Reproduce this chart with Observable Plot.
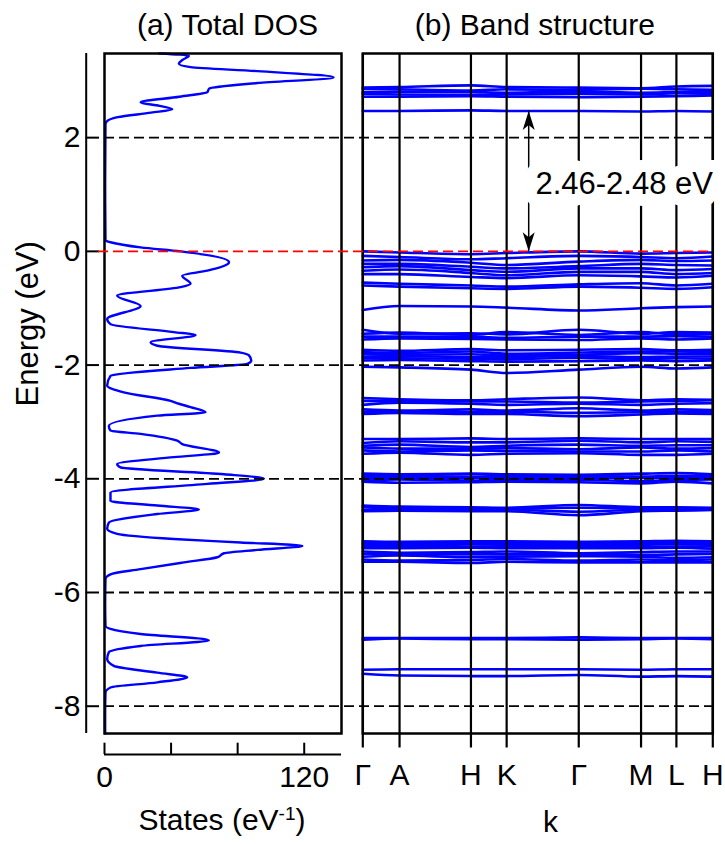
<!DOCTYPE html>
<html><head><meta charset="utf-8">
<script src="https://cdn.jsdelivr.net/npm/d3@7"></script>
<script src="https://cdn.jsdelivr.net/npm/@observablehq/plot@0.6"></script>
<style>
body{margin:0;background:#fff;}
#chart{position:relative;width:725px;height:844px;font-family:"Liberation Sans",Arial,sans-serif;}
#chart svg{position:absolute;left:0;top:0;}
</style></head><body><div id="chart"></div>
<script>
// ---------- data ----------
const energyDomain = [-8.48, 3.48];
const energyTicks = [-8, -6, -4, -2, 0, 2];
const guideEnergies = [2, -2, -4, -6, -8];
const fermiEnergy = [0];
const dosTicks = [0, 40, 80, 120];
const dosTickLabels = {0: "0", 120: "120"};

// total DOS: energy (eV) and states (eV^-1)
const dosEnergy = [3.48, 3.44, 3.37, 3.30, 3.24, 3.17, 3.06, 2.96, 2.86, 2.80, 2.72, 2.62, 2.56, 2.50, 2.44, 2.36, 2.30, 2.24, 1.2, 0.19, 0.16, 0.07, 0.00, -0.19, -0.34, -0.43, -0.57, -0.63, -0.78, -0.96, -1.19, -1.28, -1.42, -1.47, -1.60, -1.66, -1.78, -1.83, -1.92, -1.98, -2.05, -2.19, -2.36, -2.48, -2.63, -2.68, -2.74, -2.83, -2.89, -3.07, -3.15, -3.21, -3.33, -3.39, -3.54, -3.62, -3.74, -3.80, -3.92, -4.00, -4.09, -4.24, -4.39, -4.47, -4.54, -4.62, -4.77, -4.88, -4.97, -5.06, -5.12, -5.18, -5.25, -5.31, -5.38, -5.47, -5.59, -5.68, -5.76, -6.2, -6.59, -6.64, -6.73, -6.84, -6.94, -7.05, -7.17, -7.29, -7.41, -7.49, -7.58, -7.67, -7.76, -8.1, -8.48];
const dosStates = [33, 50.7, 47, 44.7, 51.7, 91.8, 137.6, 91.8, 62.8, 61.8, 45, 21.7, 33, 40.7, 28, 8, 2, 0.6, 0.4, 0.6, 3.6, 21.7, 45.7, 74.8, 61.8, 46.7, 51.7, 45.7, 7.6, 21.7, 1.6, 3.6, 41.7, 54.7, 27.7, 31.7, 81.8, 86.8, 88.2, 85.8, 51.7, 3.6, 1.6, 11.6, 39.7, 44.7, 51.7, 60.7, 31.7, 2.6, 3.6, 21.7, 43.7, 46.7, 68.8, 41.7, 7.6, 9.6, 71.8, 95.8, 61.8, 3.6, 3.6, 31.7, 56.7, 31.7, 2.6, 1.6, 7.6, 41.7, 81.8, 118.9, 91.8, 71.8, 67.8, 47.7, 21.7, 3.6, 0.6, 0.4, 0.6, 3.6, 21.7, 62.7, 21.7, 2.6, 1.6, 5.6, 31.7, 49.7, 31.7, 3.6, 0.6, 0.4, 0.4];

// band structure: k-path
const kLabels = ["Γ", "A", "H", "K", "Γ", "M", "L", "H"];
const kPositions = [0, 0.105, 0.309, 0.411, 0.617, 0.795, 0.896, 1];
// band energies (eV) at Γ, A, H, K, Γ, M, L, H
const bandEnergies = [
  [2.47, 2.47, 2.48, 2.47, 2.47, 2.46, 2.47, 2.46],
  [2.72, 2.72, 2.73, 2.72, 2.71, 2.72, 2.73, 2.74],
  [2.77, 2.76, 2.75, 2.76, 2.77, 2.76, 2.78, 2.77],
  [2.80, 2.81, 2.80, 2.79, 2.81, 2.79, 2.80, 2.81],
  [2.86, 2.85, 2.83, 2.85, 2.84, 2.86, 2.85, 2.84],
  [2.88, 2.89, 2.92, 2.89, 2.88, 2.87, 2.90, 2.91],
  [0.00, -0.02, -0.05, -0.03, 0.00, -0.04, -0.03, -0.02],
  [-0.08, -0.10, -0.14, -0.12, -0.08, -0.10, -0.12, -0.09],
  [-0.16, -0.15, -0.20, -0.24, -0.18, -0.15, -0.17, -0.16],
  [-0.22, -0.22, -0.27, -0.30, -0.26, -0.22, -0.24, -0.25],
  [-0.28, -0.26, -0.33, -0.36, -0.30, -0.30, -0.33, -0.31],
  [-0.34, -0.32, -0.38, -0.42, -0.36, -0.36, -0.40, -0.38],
  [-0.40, -0.40, -0.45, -0.47, -0.42, -0.44, -0.46, -0.43],
  [-0.55, -0.57, -0.60, -0.62, -0.58, -0.56, -0.60, -0.57],
  [-0.60, -0.62, -0.65, -0.66, -0.62, -0.64, -0.66, -0.63],
  [-1.03, -0.96, -0.97, -0.99, -1.04, -1.00, -0.98, -0.97],
  [-1.38, -1.45, -1.44, -1.46, -1.38, -1.45, -1.42, -1.43],
  [-1.45, -1.43, -1.47, -1.42, -1.47, -1.42, -1.46, -1.45],
  [-1.50, -1.50, -1.50, -1.52, -1.50, -1.50, -1.49, -1.50],
  [-1.55, -1.53, -1.54, -1.55, -1.56, -1.53, -1.55, -1.53],
  [-1.73, -1.75, -1.72, -1.74, -1.73, -1.72, -1.74, -1.73],
  [-1.77, -1.79, -1.76, -1.80, -1.78, -1.76, -1.76, -1.77],
  [-1.80, -1.82, -1.81, -1.83, -1.82, -1.79, -1.80, -1.81],
  [-1.85, -1.84, -1.86, -1.86, -1.84, -1.86, -1.85, -1.85],
  [-1.88, -1.88, -1.89, -1.90, -1.87, -1.90, -1.88, -1.89],
  [-1.92, -1.91, -1.93, -1.94, -1.93, -1.92, -1.93, -1.92],
  [-2.03, -2.04, -2.08, -2.14, -2.08, -2.03, -2.06, -2.04],
  [-2.58, -2.60, -2.62, -2.60, -2.57, -2.62, -2.60, -2.61],
  [-2.63, -2.63, -2.64, -2.64, -2.66, -2.64, -2.63, -2.62],
  [-2.70, -2.66, -2.68, -2.70, -2.68, -2.70, -2.68, -2.67],
  [-2.78, -2.80, -2.78, -2.80, -2.76, -2.80, -2.78, -2.79],
  [-2.82, -2.83, -2.83, -2.82, -2.84, -2.83, -2.82, -2.83],
  [-2.86, -2.84, -2.86, -2.86, -2.90, -2.87, -2.85, -2.86],
  [-3.30, -3.30, -3.29, -3.30, -3.29, -3.30, -3.30, -3.30],
  [-3.37, -3.34, -3.36, -3.36, -3.33, -3.36, -3.34, -3.35],
  [-3.42, -3.40, -3.44, -3.42, -3.40, -3.42, -3.41, -3.41],
  [-3.45, -3.47, -3.47, -3.46, -3.48, -3.45, -3.47, -3.46],
  [-3.50, -3.52, -3.50, -3.51, -3.52, -3.52, -3.50, -3.52],
  [-3.56, -3.54, -3.58, -3.56, -3.55, -3.58, -3.58, -3.56],
  [-3.91, -3.92, -3.91, -3.92, -3.93, -3.91, -3.90, -3.92],
  [-3.95, -3.95, -3.96, -3.95, -3.95, -3.96, -3.95, -3.95],
  [-3.98, -3.99, -3.98, -3.99, -3.98, -3.98, -3.99, -3.98],
  [-4.02, -4.01, -4.03, -4.02, -4.02, -4.04, -4.02, -4.01],
  [-4.05, -4.07, -4.06, -4.05, -4.06, -4.08, -4.05, -4.08],
  [-4.47, -4.49, -4.50, -4.51, -4.46, -4.50, -4.50, -4.51],
  [-4.50, -4.52, -4.51, -4.52, -4.51, -4.52, -4.51, -4.52],
  [-4.55, -4.53, -4.54, -4.54, -4.58, -4.54, -4.53, -4.53],
  [-4.57, -4.56, -4.57, -4.57, -4.64, -4.57, -4.56, -4.55],
  [-5.10, -5.11, -5.10, -5.10, -5.11, -5.10, -5.09, -5.10],
  [-5.13, -5.14, -5.12, -5.13, -5.14, -5.13, -5.12, -5.13],
  [-5.16, -5.16, -5.15, -5.16, -5.16, -5.16, -5.15, -5.16],
  [-5.19, -5.18, -5.19, -5.19, -5.19, -5.20, -5.19, -5.19],
  [-5.22, -5.22, -5.21, -5.22, -5.22, -5.22, -5.21, -5.23],
  [-5.28, -5.30, -5.29, -5.28, -5.31, -5.29, -5.28, -5.28],
  [-5.32, -5.32, -5.33, -5.33, -5.32, -5.34, -5.33, -5.32],
  [-5.37, -5.35, -5.38, -5.37, -5.36, -5.37, -5.39, -5.38],
  [-5.42, -5.44, -5.43, -5.41, -5.44, -5.42, -5.43, -5.42],
  [-5.46, -5.46, -5.48, -5.46, -5.47, -5.47, -5.47, -5.47],
  [-6.80, -6.80, -6.80, -6.80, -6.79, -6.80, -6.80, -6.80],
  [-6.83, -6.81, -6.82, -6.82, -6.83, -6.82, -6.81, -6.82],
  [-7.36, -7.35, -7.35, -7.35, -7.35, -7.36, -7.35, -7.35],
  [-7.43, -7.46, -7.47, -7.47, -7.45, -7.48, -7.47, -7.48]
];
const gapLabel = "2.46-2.48 eV";
const gapTopEnergy = 2.47;
const gapArrowK = 0.474;
const gapLabelEnergy = 1.19;

// ---------- drawing ----------
const W = 725, H = 844;
const FONT = "Liberation Sans, Arial, Helvetica, sans-serif";
const BLUE = "#0000ff";
const frameTop = 53, frameBottom = 733;
const aLeft = 104, aRight = 341;
const bLeft = 362.3, bRight = 712.3;

const dos = dosEnergy.map((e, i) => ({E: e, S: dosStates[i]}));
const bandData = bandEnergies.flatMap((b, j) => b.map((e, i) => ({band: j, k: kPositions[i], E: e})));

const headUp = {draw(ctx) { ctx.moveTo(0, 0); ctx.lineTo(-6, 19); ctx.lineTo(0, 14); ctx.lineTo(6, 19); ctx.closePath(); }};

const plotA = Plot.plot({
  width: W, height: H,
  marginLeft: aLeft, marginRight: W - aRight, marginTop: frameTop, marginBottom: H - frameBottom,
  style: {background: "none", fontFamily: FONT, overflow: "visible"},
  x: {domain: [0, 142.4], axis: null},
  y: {domain: energyDomain, axis: null},
  marks: [
    Plot.line(dos, {x: "S", y: "E", stroke: BLUE, strokeWidth: 2.4, curve: "monotone-y"}),
    Plot.frame({stroke: "black", strokeWidth: 2.5}),
    Plot.ruleX([0], {dx: -18.3, stroke: "black", strokeWidth: 2}),
    Plot.axisY({ticks: energyTicks, tickSize: -13.3, dx: -18.3, tickFormat: () => "", strokeWidth: 2, label: null}),
    Plot.axisY({ticks: energyTicks, tickSize: 0, tickPadding: 24, tickFormat: d => String(d), fontSize: 30, label: null}),
    Plot.ruleY([energyDomain[0]], {dy: 21, stroke: "black", strokeWidth: 2}),
    Plot.axisX({ticks: dosTicks, tickSize: -11.3, dy: 21, tickFormat: () => "", strokeWidth: 2, label: null}),
    Plot.axisX({ticks: dosTicks, tickSize: 0, tickPadding: 32, tickFormat: d => dosTickLabels[d] ?? "", fontSize: 30, label: null}),
    Plot.text(["(a) Total DOS"], {frameAnchor: "top", lineAnchor: "top", dx: 4.5, dy: -40.3, fontSize: 30}),
    Plot.text(["States (eV-1)"], {frameAnchor: "bottom", lineAnchor: "top", dx: -1, dy: 75, fontSize: 30}),
    Plot.text(["Energy (eV)"], {frameAnchor: "left", rotate: -90, lineAnchor: "middle", dx: -76, dy: 13, fontSize: 31})
  ]
});

const plotB = Plot.plot({
  width: W, height: H,
  marginLeft: bLeft, marginRight: W - bRight, marginTop: frameTop, marginBottom: H - frameBottom,
  style: {background: "none", fontFamily: FONT, overflow: "visible"},
  x: {domain: [0, 1], axis: null},
  y: {domain: energyDomain, axis: null},
  marks: [
    Plot.line(bandData, {x: "k", y: "E", z: "band", stroke: BLUE, strokeWidth: 2.6, curve: "monotone-x"}),
    Plot.ruleX(kPositions, {stroke: "black", strokeWidth: 2.2}),
    Plot.frame({stroke: "black", strokeWidth: 2.5}),
    Plot.ruleY(guideEnergies, {stroke: "black", strokeWidth: 1.8, strokeDasharray: "10,5", insetLeft: -(bLeft - aLeft)}),
    Plot.ruleY(fermiEnergy, {stroke: "#ff0000", strokeWidth: 1.8, strokeDasharray: "10,5", insetLeft: -(bLeft - 98)}),
    Plot.axisX({ticks: kPositions, tickSize: 14.5, tickPadding: 15.5, strokeWidth: 2.2, fontSize: 30, label: null,
      tickFormat: d => kLabels[kPositions.indexOf(d)]}),
    Plot.ruleX([gapArrowK], {y1: 0, y2: gapTopEnergy, stroke: "black", strokeWidth: 1.5}),
    Plot.dot([gapTopEnergy], {x: gapArrowK, y: d => d, symbol: headUp, fill: "black", stroke: "none", r: 5, rotate: 0}),
    Plot.dot([0], {x: gapArrowK, y: d => d, symbol: headUp, fill: "black", stroke: "none", r: 5, rotate: 180}),
    Plot.text([gapLabel], {x: gapArrowK, y: gapLabelEnergy, dx: 6.7, textAnchor: "start", lineAnchor: "middle", fontSize: 31,
      fill: "black", stroke: "white", strokeWidth: 24, strokeLinejoin: "round"}),
    Plot.text(["(b) Band structure"], {frameAnchor: "top", lineAnchor: "top", dx: -3, dy: -40.3, fontSize: 30}),
    Plot.text(["k"], {frameAnchor: "bottom", lineAnchor: "top", dx: 12.7, dy: 77, fontSize: 30})
  ]
});

const chart = document.getElementById("chart");
chart.appendChild(plotA);
chart.appendChild(plotB);

// superscript in the DOS axis title
const ns = "http://www.w3.org/2000/svg";
plotA.querySelectorAll("text").forEach(t => {
  if (t.textContent === "States (eV-1)") {
    t.textContent = "";
    const a = document.createElementNS(ns, "tspan"); a.textContent = "States (eV";
    const b = document.createElementNS(ns, "tspan"); b.textContent = "-1"; b.setAttribute("font-size", "19"); b.setAttribute("dy", "-10");
    const c = document.createElementNS(ns, "tspan"); c.textContent = ")"; c.setAttribute("dy", "10");
    t.append(a, b, c);
  }
});
</script></body></html>
